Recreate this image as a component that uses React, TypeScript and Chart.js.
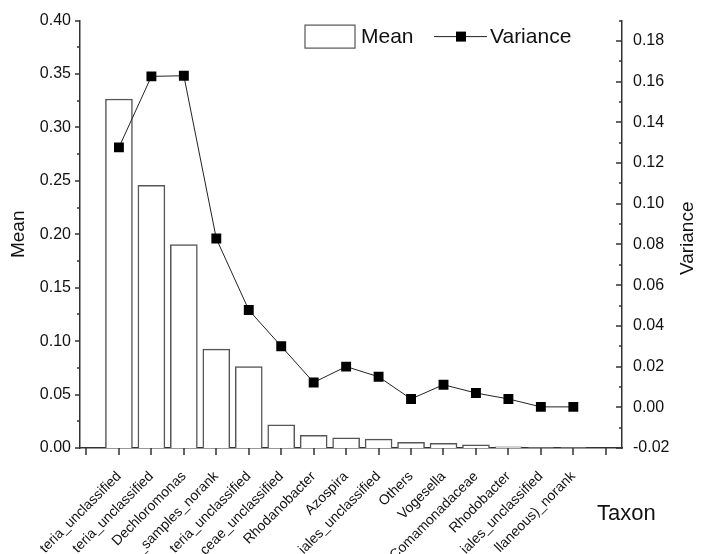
import React, { useEffect, useRef } from "react";
import { Chart, registerables } from "chart.js";

Chart.register(...registerables);

// ---- data ----
const taxa = [
  "teria_unclassified",
  "teria_unclassified",
  "Dechloromonas",
  "_samples_norank",
  "teria_unclassified",
  "ceae_unclassified",
  "Rhodanobacter",
  "Azospira",
  "iales_unclassified",
  "Others",
  "Vogesella",
  "Comamonadaceae",
  "Rhodobacter",
  "iales_unclassified",
  "llaneous)_norank",
];
const meanValues = [0.3266, 0.2458, 0.1903, 0.0925, 0.0761, 0.0216, 0.0118, 0.0095, 0.0083, 0.0053, 0.0043, 0.003, 0.001, 0.0002, 0.0001];
const varianceValues = [0.1277, 0.1626, 0.1629, 0.0829, 0.0478, 0.03, 0.0122, 0.02, 0.015, 0.0041, 0.0111, 0.007, 0.0041, 0.0002, 0.0002];
const meanTicks = { min: 0, max: 0.4, step: 0.025, labelEvery: 0.05 };
const varianceTicks = { min: -0.02, max: 0.19, step: 0.01, labelEvery: 0.02 };

// ---- style ----
const FONT = "'Liberation Sans', Arial, sans-serif";
const AXIS_COLOR = "#333333";
const TEXT_COLOR = "#111111";

const isMultiple = (v: number, step: number) => {
  const r = Math.round(v / step);
  return Math.abs(v / step - r) < 1e-6;
};

const decorPlugin = {
  id: "decor",
  afterDraw(chart: any) {
    const ctx = chart.ctx as CanvasRenderingContext2D;
    const { x, y, y1 } = chart.scales;
    const area = chart.chartArea;
    ctx.save();
    // tick marks
    ctx.strokeStyle = AXIS_COLOR;
    ctx.lineWidth = 1.5;
    ctx.beginPath();
    x.ticks.forEach((t: any) => {
      const p = Math.round(x.getPixelForValue(t.value));
      ctx.moveTo(p, x.top);
      ctx.lineTo(p, x.top + 7);
    });
    y.ticks.forEach((t: any) => {
      const p = Math.round(y.getPixelForValue(t.value));
      const len = t.label ? 5 : 3;
      ctx.moveTo(y.right, p);
      ctx.lineTo(y.right - len, p);
    });
    y1.ticks.forEach((t: any) => {
      const p = Math.round(y1.getPixelForValue(t.value));
      const len = t.label ? 6 : 3;
      ctx.moveTo(y1.left, p);
      ctx.lineTo(y1.left - len, p);
    });
    ctx.stroke();

    // right axis title (reads bottom to top)
    ctx.fillStyle = TEXT_COLOR;
    ctx.font = `19px ${FONT}`;
    ctx.textAlign = "center";
    ctx.textBaseline = "middle";
    ctx.save();
    ctx.translate(area.right + 66, (area.top + area.bottom) / 2 + 4);
    ctx.rotate(-Math.PI / 2);
    ctx.fillText("Variance", 0, 0);
    ctx.restore();

    // x axis title at the right end
    ctx.font = `22px ${FONT}`;
    ctx.textAlign = "left";
    ctx.textBaseline = "alphabetic";
    ctx.fillText("Taxon", area.right - 25, area.bottom + 72);

    // legend
    const lx = area.right - 317;
    const ly = area.top + 16;
    const bar = chart.data.datasets[1];
    const line = chart.data.datasets[0];
    ctx.lineWidth = 1.2;
    ctx.strokeStyle = bar.borderColor;
    ctx.fillStyle = bar.backgroundColor;
    ctx.fillRect(lx, ly - 11.5, 50, 23);
    ctx.strokeRect(lx, ly - 11.5, 50, 23);
    ctx.fillStyle = TEXT_COLOR;
    ctx.font = `21px ${FONT}`;
    ctx.textBaseline = "middle";
    ctx.fillText(bar.label, lx + 56, ly + 1);
    ctx.strokeStyle = line.borderColor;
    ctx.lineWidth = 1;
    ctx.beginPath();
    ctx.moveTo(lx + 129, ly);
    ctx.lineTo(lx + 182, ly);
    ctx.stroke();
    ctx.fillStyle = line.pointBackgroundColor;
    ctx.fillRect(lx + 151, ly - 5, 10, 10);
    ctx.fillStyle = TEXT_COLOR;
    ctx.fillText(line.label, lx + 185, ly + 1);
    ctx.restore();
  },
};

export default function App() {
  const ref = useRef<HTMLCanvasElement>(null);
  useEffect(() => {
    const chart = new Chart(ref.current as HTMLCanvasElement, {
      type: "bar",
      data: {
        datasets: [
          {
            type: "line",
            label: "Variance",
            data: varianceValues.map((v, i) => ({ x: i, y: v })),
            yAxisID: "y1",
            xAxisID: "x",
            borderColor: "#222222",
            borderWidth: 1,
            pointStyle: "rect",
            pointRadius: 7,
            pointBorderWidth: 0,
            pointBackgroundColor: "#000000",
            pointBorderColor: "#000000",
            order: 0,
          } as any,
          {
            type: "bar",
            label: "Mean",
            data: meanValues.map((v, i) => ({ x: i, y: v })),
            yAxisID: "y",
            xAxisID: "x",
            backgroundColor: "#ffffff",
            borderColor: "#555555",
            borderWidth: 1.5,
            barThickness: 27,
            order: 1,
          } as any,
        ],
      },
      options: {
        responsive: false,
        animation: false,
        layout: { padding: { top: 16, left: 0, right: 0, bottom: 0 } },
        plugins: { legend: { display: false }, tooltip: { enabled: false } },
        scales: {
          x: {
            type: "linear",
            min: -1.2,
            max: 15.5,
            offset: false,
            grid: { display: false, drawTicks: false },
            border: { display: true, color: AXIS_COLOR, width: 1.5 },
            ticks: {
              stepSize: 1,
              includeBounds: false,
              autoSkip: false,
              minRotation: 45,
              maxRotation: 45,
              padding: 17,
              color: TEXT_COLOR,
              font: { family: FONT, size: 14, lineHeight: 1.85 },
              callback: (v: any) => {
                const i = Number(v);
                return Number.isInteger(i) && i >= 0 && i < taxa.length ? taxa[i] : "";
              },
            },
            afterFit: (s: any) => {
              s.height = 106;
            },
          } as any,
          y: {
            type: "linear",
            position: "left",
            min: meanTicks.min,
            max: meanTicks.max,
            grid: { display: false, drawTicks: false },
            border: { display: true, color: AXIS_COLOR, width: 1.5 },
            ticks: {
              stepSize: meanTicks.step,
              autoSkip: false,
              padding: 9,
              color: TEXT_COLOR,
              font: { family: FONT, size: 16 },
              callback: (v: any) => (isMultiple(Number(v), meanTicks.labelEvery) ? Number(v).toFixed(2) : ""),
            },
            title: {
              display: true,
              text: "Mean",
              color: TEXT_COLOR,
              font: { family: FONT, size: 19 },
              padding: { top: 7, bottom: 0 },
            },
            afterFit: (s: any) => {
              s.width = 80;
            },
          } as any,
          y1: {
            type: "linear",
            position: "right",
            min: varianceTicks.min,
            max: varianceTicks.max,
            grid: { display: false, drawTicks: false },
            border: { display: true, color: AXIS_COLOR, width: 1.5 },
            ticks: {
              stepSize: varianceTicks.step,
              autoSkip: false,
              padding: 11,
              color: TEXT_COLOR,
              font: { family: FONT, size: 16 },
              callback: (v: any) => (isMultiple(Number(v), varianceTicks.labelEvery) ? Number(v).toFixed(2) : ""),
            },
            afterFit: (s: any) => {
              s.width = 80;
            },
          } as any,
        },
      },
      plugins: [decorPlugin],
    } as any);
    return () => chart.destroy();
  }, []);

  return (
    <div style={{ position: "absolute", left: 0, top: 0, width: 702, height: 554, overflow: "hidden" }}>
      <canvas ref={ref} width={702} height={554} style={{ display: "block" }} />
    </div>
  );
}
